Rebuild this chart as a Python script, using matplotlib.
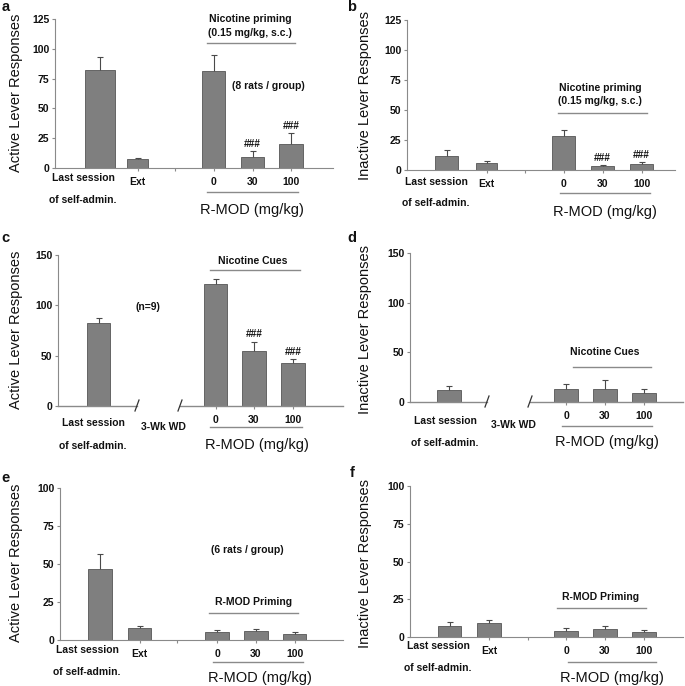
import matplotlib
matplotlib.use("Agg")
import matplotlib.pyplot as plt
from matplotlib.lines import Line2D

plt.rcParams['font.family'] = ['Liberation Sans', 'DejaVu Sans']

# ---- data ----
cats_ext = ["Last session", "Ext", "0", "30", "100"]
cats_wd = ["Last session", "0", "30", "100"]

a_mean = [82, 7.5, 81, 9, 20]
a_sem = [11.5, 1, 14, 5, 9]
a_sig = ["", "", "", "###", "###"]

b_mean = [11.5, 6, 28, 3, 5]
b_sem = [5, 1.5, 5, 1.5, 1.5]
b_sig = ["", "", "", "###", "###"]

c_mean = [82, 121, 55, 43]
c_sem = [5, 5, 9, 4]
c_sig = ["", "", "###", "###"]

d_mean = [12, 13, 13, 9.5]
d_sem = [4.5, 5, 9, 3.5]
d_sig = ["", "", "", ""]

e_mean = [47, 8, 5, 6, 4]
e_sem = [9.5, 1.5, 1.3, 1.5, 1.5]
e_sig = ["", "", "", "", ""]

f_mean = [7, 9, 4, 5.5, 3.5]
f_sem = [3, 2, 2, 2, 1.2]
f_sig = ["", "", "", "", ""]

W, H = 685, 686
fig = plt.figure(figsize=(6.85, 6.86), dpi=100)

BAR = '#7f7f7f'
EDGE = '#555555'
AXC = '#8a8a8a'
TXT = '#111111'


def fx(x):
    return x / W


def fy(y):
    return 1 - y / H


def ftext(x, y, s, size=7.5, weight='bold', **kw):
    fig.text(fx(x), fy(y), s, fontsize=size, fontweight=weight, color=TXT,
             ha='center', va='center', **kw)


def hline(x0, x1, y, color=AXC, lw=1.0):
    fig.add_artist(Line2D([fx(x0), fx(x1)], [fy(y), fy(y)],
                          transform=fig.transFigure, color=color, lw=lw))


def panel(L, mean, sem, sig, cats, ylabel):
    left, right, y0, ytop = L['box']
    ax = fig.add_axes([fx(left), fy(y0), (right - left) / W, (y0 - ytop) / H])
    ax.set_xlim(left, right)
    ax.set_ylim(0, L['ymax'])
    xs = L['x']
    ax.errorbar(xs, mean, yerr=sem, fmt='none', ecolor='#4a4a4a',
                elinewidth=0.8, capsize=2.5, capthick=0.8, zorder=1)
    ax.bar(xs, mean, width=L['w'], color=BAR, edgecolor=EDGE, linewidth=0.6,
           zorder=2)
    for x, m, s, t in zip(xs, mean, sem, sig):
        if t:
            ax.annotate(t, (x, m + s), xytext=(0, 1.5), textcoords='offset points',
                        ha='center', va='bottom', fontsize=7.3,
                        fontweight='bold', color=TXT)
    for side in ['top', 'right']:
        ax.spines[side].set_visible(False)
    ax.spines['left'].set_color(AXC)
    ax.spines['bottom'].set_color(AXC)
    ax.set_yticks(L['yticks'])
    ax.set_yticklabels([str(v) for v in L['yticks']], fontsize=7.5,
                       fontweight='bold', color=TXT)
    ax.set_xticks(xs[1:])
    ax.set_xticklabels(cats[1:], fontsize=7.5, fontweight='bold', color=TXT)
    if L.get('sep'):
        ax.set_xticks([L['sep']], minor=True)
    ax.tick_params(axis='both', which='both', length=2.5, width=0.8,
                   color=AXC, direction='out')
    ax.tick_params(axis='y', pad=1.5)
    ax.tick_params(axis='x', pad=4)
    if L.get('brk'):
        ax.spines['bottom'].set_visible(False)
        s1, s2 = L['brk']
        ax.plot([left, s1], [0, 0], color=AXC, lw=1.0, clip_on=False)
        ax.plot([s2, right], [0, 0], color=AXC, lw=1.0, clip_on=False)
        for xb in (s1, s2):
            fig.add_artist(Line2D([fx(xb - 2), fx(xb + 2)], [fy(y0 + 5), fy(y0 - 6)],
                                  transform=fig.transFigure, color='#333333', lw=0.9))
    # labels
    lx, ly1, ly2 = L['last']
    ftext(lx, ly1, cats[0])
    ftext(lx, ly2, "of self-admin.")
    rx, ry, r0, r1, ru = L['rmod']
    ftext(rx, ry, "R-MOD (mg/kg)", size=10.5, weight='normal')
    hline(r0, r1, ru)
    for (tx, ty, s, size) in L['notes']:
        ftext(tx, ty, s, size=size)
    hx0, hx1, hy = L['over']
    hline(hx0, hx1, hy)
    ylx, yly = L['ylab']
    fig.text(fx(ylx), fy(yly), ylabel, rotation=90, fontsize=10.5,
             color=TXT, ha='center', va='center')
    px, py = L['letter']
    fig.text(fx(px), fy(py), L['name'], fontsize=10.5, fontweight='bold',
             color=TXT, ha='center', va='center')
    return ax


# ---- layout (pixel positions in the 685x686 picture) ----
La = dict(name='a', box=(55, 333, 168, 19), ymax=125, yticks=[0, 25, 50, 75, 100, 125],
          x=[100, 137.5, 213.5, 252.5, 291], w=[30, 21, 23, 23, 24], sep=175,
          last=(83, 178, 200), rmod=(252, 210, 207, 298, 192),
          notes=[(250, 19, "Nicotine priming", 7.5), (250, 33, "(0.15 mg/kg, s.c.)", 7.5),
                 (268, 86, "(8 rats / group)", 7.5)],
          over=(207, 295, 43), ylab=(16, 93), letter=(6, 7))
Lb = dict(name='b', box=(407, 675, 170, 20), ymax=125, yticks=[0, 25, 50, 75, 100, 125],
          x=[446.5, 486.5, 563.5, 602.5, 641.5], w=[23, 21, 23, 23, 23], sep=525,
          last=(436, 182, 203), rmod=(605, 212, 560, 650, 193),
          notes=[(600, 88, "Nicotine priming", 7.5), (600, 101, "(0.15 mg/kg, s.c.)", 7.5)],
          over=(558, 647, 113), ylab=(365, 95), letter=(352, 7))
Lc = dict(name='c', box=(58, 343, 406, 255), ymax=150, yticks=[0, 50, 100, 150],
          x=[98.5, 215.5, 254, 293], w=[23, 23, 24, 24], brk=(137, 180),
          last=(93, 423, 446), rmod=(257, 445, 210, 302, 427),
          notes=[(253, 261, "Nicotine Cues", 7.5), (148, 307, "(n=9)", 7.5),
                 (163, 427, "3-Wk WD", 7.5)],
          over=(210, 300, 270), ylab=(16, 330), letter=(5, 238))
Ld = dict(name='d', box=(410, 683, 402, 253), ymax=150, yticks=[0, 50, 100, 150],
          x=[449, 566, 605, 644], w=[24, 24, 24, 24], brk=(487, 530),
          last=(445, 421, 443), rmod=(607, 442, 562, 652, 426),
          notes=[(605, 352, "Nicotine Cues", 7.5), (513, 425, "3-Wk WD", 7.5)],
          over=(573, 651, 367), ylab=(365, 330), letter=(352, 238))
Le = dict(name='e', box=(60, 343, 640, 488), ymax=100, yticks=[0, 25, 50, 75, 100],
          x=[100, 139.5, 217, 256, 294.5], w=[24, 23, 24, 24, 23], sep=177,
          last=(87, 650, 672), rmod=(260, 678, 213, 303, 662),
          notes=[(247, 550, "(6 rats / group)", 7.5), (254, 602, "R-MOD Priming", 7.5)],
          over=(209, 298, 613), ylab=(16, 563), letter=(5, 478))
Lf = dict(name='f', box=(410, 683, 637, 486), ymax=100, yticks=[0, 25, 50, 75, 100],
          x=[449.5, 489, 566, 605, 644], w=[23, 24, 24, 24, 24], sep=528,
          last=(438, 646, 668), rmod=(612, 678, 568, 656, 662),
          notes=[(601, 597, "R-MOD Priming", 7.5)],
          over=(557, 646, 608), ylab=(365, 563), letter=(352, 473))

panel(La, a_mean, a_sem, a_sig, cats_ext, "Active Lever Responses")
panel(Lb, b_mean, b_sem, b_sig, cats_ext, "Inactive Lever Responses")
panel(Lc, c_mean, c_sem, c_sig, cats_wd, "Active Lever Responses")
panel(Ld, d_mean, d_sem, d_sig, cats_wd, "Inactive Lever Responses")
panel(Le, e_mean, e_sem, e_sig, cats_ext, "Active Lever Responses")
panel(Lf, f_mean, f_sem, f_sig, cats_ext, "Inactive Lever Responses")

fig.savefig("out.png", dpi=100, facecolor='white')
